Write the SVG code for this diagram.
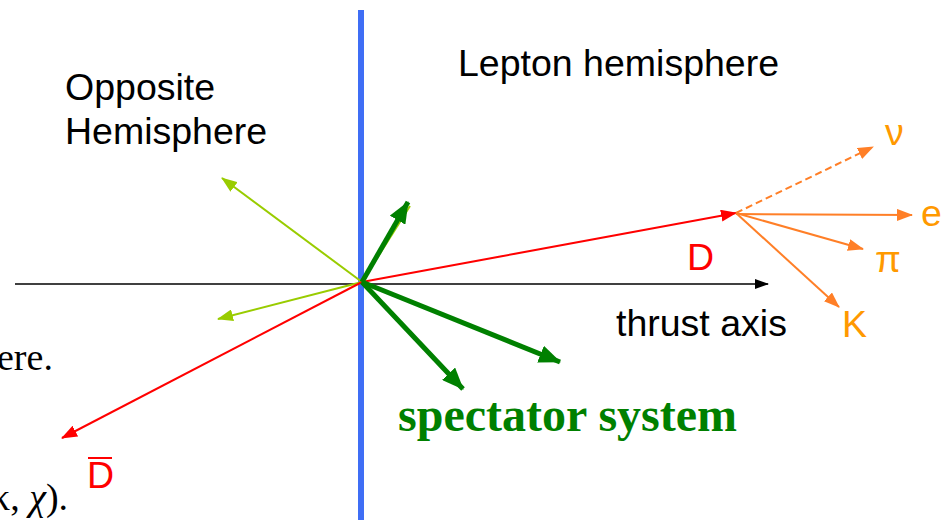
<svg xmlns="http://www.w3.org/2000/svg" width="950" height="520" viewBox="0 0 950 520">
<defs>
<style>
.lbl{font-family:"Liberation Sans",Arial,sans-serif;font-size:37.5px;fill:#000}
.red{fill:#ff0000}
.org{fill:#ff9900}
.ser{font-family:"Liberation Serif","Times New Roman",serif;font-size:38px;fill:#000}
.spec{font-family:"Liberation Serif","Times New Roman",serif;font-size:48px;font-weight:bold;fill:#008000}
</style>
<marker id="ak" markerWidth="14" markerHeight="10" refX="13" refY="5" orient="auto" markerUnits="userSpaceOnUse"><path d="M0,0 L14,5 L0,10 z" fill="#000"/></marker>
<marker id="ar" markerWidth="16" markerHeight="12" refX="15" refY="6" orient="auto" markerUnits="userSpaceOnUse"><path d="M0,0 L16,6 L0,12 z" fill="#ff0000"/></marker>
<marker id="ao" markerWidth="16" markerHeight="12" refX="15" refY="6" orient="auto" markerUnits="userSpaceOnUse"><path d="M0,0 L16,6 L0,12 z" fill="#ff7f27"/></marker>
<marker id="al" markerWidth="16" markerHeight="12" refX="15" refY="6" orient="auto" markerUnits="userSpaceOnUse"><path d="M0,0 L16,6 L0,12 z" fill="#99cc00"/></marker>
<marker id="ag" markerWidth="22" markerHeight="18" refX="21" refY="9" orient="auto" markerUnits="userSpaceOnUse"><path d="M0,0 L22,9 L0,18 z" fill="#008000"/></marker>
</defs>
<g id="connectors">
<line x1="15" y1="284" x2="768" y2="284" stroke="#000" stroke-width="1.5" marker-end="url(#ak)"/>
<rect id="divider" x="358" y="10" width="6" height="510" fill="#3f6ef5"/>
<line x1="362" y1="282" x2="222" y2="178" stroke="#99cc00" stroke-width="2" marker-end="url(#al)"/>
<line x1="362" y1="282" x2="218" y2="319" stroke="#99cc00" stroke-width="2" marker-end="url(#al)"/>
<line x1="362" y1="282" x2="410" y2="206" stroke="#99cc00" stroke-width="2"/>
<line x1="362" y1="282" x2="535" y2="351" stroke="#99cc00" stroke-width="2"/>
<line x1="362" y1="282" x2="736" y2="213" stroke="#ff0000" stroke-width="2" marker-end="url(#ar)"/>
<line x1="362" y1="282" x2="62" y2="438" stroke="#ff0000" stroke-width="2" marker-end="url(#ar)"/>
<line x1="736" y1="213" x2="873" y2="147" stroke="#ff7f27" stroke-width="2" stroke-dasharray="7,4" marker-end="url(#ao)"/>
<line x1="736" y1="214" x2="912" y2="215" stroke="#ff7f27" stroke-width="2" marker-end="url(#ao)"/>
<line x1="736" y1="213" x2="863" y2="249" stroke="#ff7f27" stroke-width="2" marker-end="url(#ao)"/>
<line x1="736" y1="213" x2="839" y2="307" stroke="#ff7f27" stroke-width="2" marker-end="url(#ao)"/>
<line x1="362" y1="282" x2="408" y2="202" stroke="#008000" stroke-width="5" marker-end="url(#ag)"/>
<line x1="362" y1="282" x2="463" y2="389" stroke="#008000" stroke-width="5" marker-end="url(#ag)"/>
<line x1="362" y1="282" x2="560" y2="362" stroke="#008000" stroke-width="5" marker-end="url(#ag)"/>
</g>
<g id="labels">
<text class="lbl" x="65" y="100">Opposite</text>
<text class="lbl" x="65" y="144">Hemisphere</text>
<text class="lbl" x="458" y="76">Lepton hemisphere</text>
<text class="lbl" x="616" y="336">thrust axis</text>
<text class="lbl red" x="687" y="270" font-size="32">D</text>
<g id="dbar"><text class="lbl red" x="87" y="488" font-size="32">D</text><line x1="88" y1="458" x2="112" y2="458" stroke="#ff0000" stroke-width="2"/></g>
<text class="lbl org" x="885" y="145" font-size="32">ν</text>
<text class="lbl org" x="921" y="226" font-size="32">e</text>
<text class="lbl org" x="875" y="272" font-family="Liberation Serif,serif" font-size="28">π</text>
<text class="lbl org" x="842" y="337" font-size="32">K</text>
<text class="spec" x="398" y="431">spectator system</text>
<text class="ser" x="-22" y="370">here.</text>
<text class="ser" x="-9" y="510">κ, <tspan font-style="italic">χ</tspan>).</text>
</g>
</svg>
